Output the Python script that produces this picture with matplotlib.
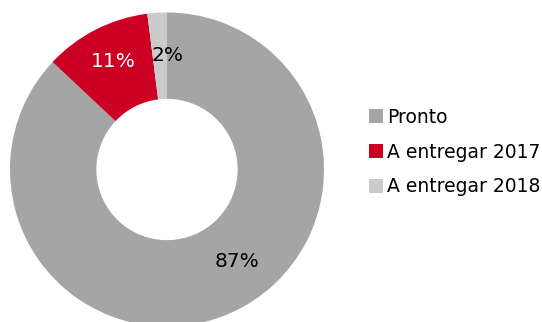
import matplotlib
matplotlib.use("Agg")
import matplotlib.pyplot as plt
from matplotlib.patches import Patch

categories = ["Pronto", "A entregar 2017", "A entregar 2018"]
values = [87, 11, 2]
labels = ["87%", "11%", "2%"]
colors = ["#A5A5A5", "#CC0022", "#C9CCCA"]
label_colors = ["black", "white", "black"]
label_pos = [(0.446, -0.589), (-0.344, 0.685), (0.006, 0.729)]

W, H = 542, 322
fig = plt.figure(figsize=(W / 100, H / 100), dpi=100)
cx, cy, R = 167, 322 - 169.5, 157
ax = fig.add_axes([(cx - R) / W, (cy - R) / H, 2 * R / W, 2 * R / H])
wedges, _ = ax.pie(values, colors=colors, startangle=90, counterclock=False,
                   radius=1, wedgeprops=dict(width=0.55, linewidth=0))
ax.set_xlim(-1, 1)
ax.set_ylim(-1, 1)
ax.set_aspect("equal")
ax.axis("off")

for lab, (x, y), c in zip(labels, label_pos, label_colors):
    ax.text(x, y, lab, ha="center", va="center", fontsize=14.5, color=c,
            family="DejaVu Sans")

handles = [Patch(facecolor=c, edgecolor="none") for c in colors]
fig.legend(handles, categories, loc="center left", bbox_to_anchor=(369 / W, 1 - 152 / H),
           frameon=False, fontsize=13.5, handlelength=0.75, handleheight=0.75,
           handletextpad=0.22, labelspacing=0.85, borderaxespad=0, borderpad=0)

fig.savefig("out.png", dpi=100)
